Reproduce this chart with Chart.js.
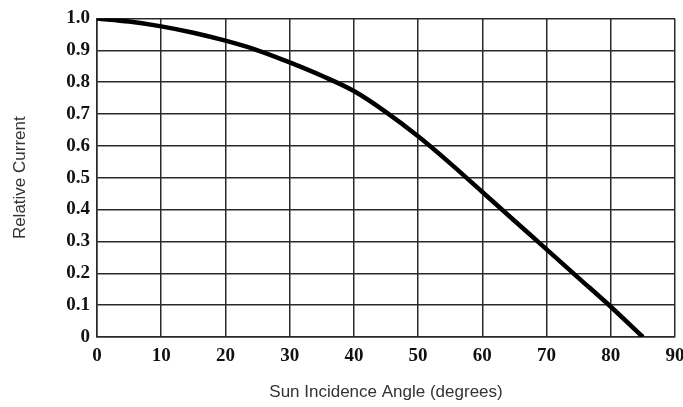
<!DOCTYPE html>
<html>
<head>
<meta charset="utf-8">
<script src="https://cdn.jsdelivr.net/npm/chart.js@4.4.1/dist/chart.umd.min.js"></script>
<style>
    html, body { margin: 0; padding: 0; background: #fff; }
    #wrap { width: 683px; height: 407px; position: relative; }
</style>
</head>
<body>
<div id="wrap"><canvas id="angle-chart"></canvas></div>
<script>
// incidence angle (degrees) and relative current
const angles = [0, 5, 10, 15, 20, 25, 30, 35, 40, 45, 50, 55, 60, 65, 70, 75, 80, 85];
const relativeCurrent = [1.0, 0.99, 0.975, 0.955, 0.93, 0.9, 0.862, 0.82, 0.772, 0.706, 0.63, 0.545, 0.455, 0.365, 0.275, 0.185, 0.095, 0.0];
const xTicks = [0, 10, 20, 30, 40, 50, 60, 70, 80, 90];
const yTicks = ["0", "0.1", "0.2", "0.3", "0.4", "0.5", "0.6", "0.7", "0.8", "0.9", "1.0"];

document.addEventListener("DOMContentLoaded", () => {
    const ctx = document.getElementById("angle-chart").getContext("2d");
    const tickFont = { family: "'Liberation Serif', serif", size: 19, weight: "bold" };
    const titleFont = { family: "'Liberation Sans', Arial, sans-serif", size: 17, weight: "normal" };

    new Chart(ctx, {
        type: "line",
        data: {
            datasets: [{
                data: angles.map((a, i) => ({ x: a, y: relativeCurrent[i] })),
                borderColor: "#000",
                borderWidth: 4.5,
                pointRadius: 0,
                cubicInterpolationMode: "monotone",
                fill: false
            }]
        },
        options: {
            responsive: true,
            maintainAspectRatio: false,
            animation: false,
            layout: { padding: { left: 6, right: 0, top: 10, bottom: 0 } },
            plugins: {
                legend: { display: false },
                tooltip: { enabled: false }
            },
            scales: {
                x: {
                    type: "linear",
                    min: 0,
                    max: 90,
                    afterBuildTicks: scale => { scale.ticks = xTicks.map(v => ({ value: v })); },
                    afterFit: scale => {
                        scale.height = 70;
                        scale.paddingRight = 8; // let "90" hang past the plot edge
                    },
                    grid: { color: "#2a2a2a", lineWidth: 1.5, drawTicks: false },
                    border: { color: "#2a2a2a", width: 1.5 },
                    ticks: { color: "#111", font: tickFont, padding: 8 },
                    title: {
                        display: true,
                        text: "Sun Incidence Angle (degrees)",
                        color: "#333",
                        font: titleFont,
                        padding: { top: 4, bottom: 4 }
                    }
                },
                y: {
                    min: 0,
                    max: 1.0,
                    afterBuildTicks: scale => { scale.ticks = yTicks.map(v => ({ value: parseFloat(v) })); },
                    afterFit: scale => { scale.width = 91; },
                    grid: { color: "#2a2a2a", lineWidth: 1.5, drawTicks: false },
                    border: { color: "#2a2a2a", width: 1.5 },
                    ticks: {
                        color: "#111",
                        font: tickFont,
                        padding: 7,
                        callback: (value, index) => yTicks[index]
                    },
                    title: {
                        display: true,
                        text: "Relative Current",
                        color: "#333",
                        font: titleFont,
                        padding: { top: 4, bottom: 4 }
                    }
                }
            }
        }
    });
});
</script>
</body>
</html>
